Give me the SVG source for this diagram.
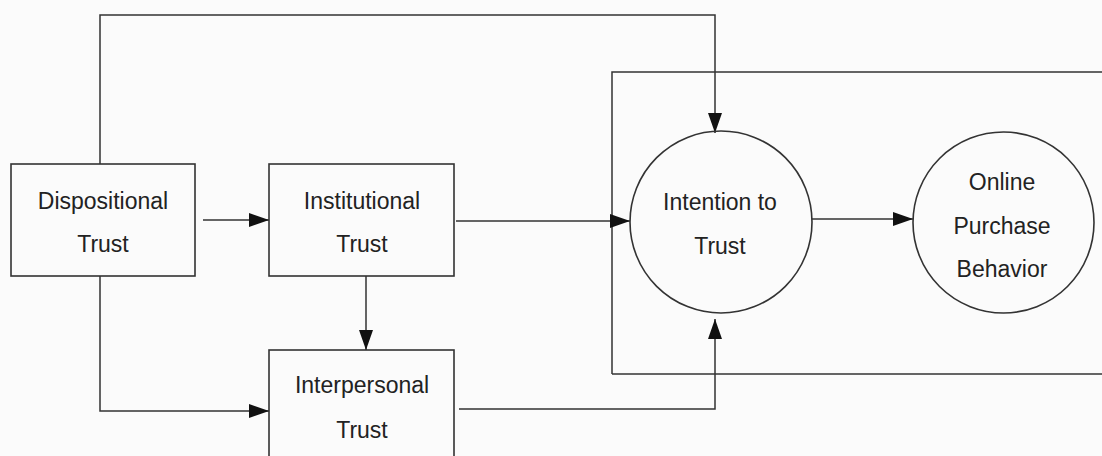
<svg xmlns="http://www.w3.org/2000/svg" width="1102" height="456" viewBox="0 0 1102 456">
<style>
.box{fill:none;stroke:#333;stroke-width:1.6}
.ln{fill:none;stroke:#333;stroke-width:1.5}
.t{font-family:"Liberation Sans",Arial,sans-serif;font-size:23px;fill:#222;text-anchor:middle}
</style>
<defs>
<marker id="ah" markerUnits="userSpaceOnUse" markerWidth="20" markerHeight="14" refX="20" refY="7" orient="auto">
<path d="M0,0 L20,7 L0,14 Z" fill="#111"/>
</marker>
</defs>
<rect width="1102" height="456" fill="#fbfbfb"/>
<g id="connectors">
<path class="ln" d="M612,374 L612,72 L1110,72"/>
<path class="ln" d="M612,374 L1110,374"/>
<path class="ln" d="M100,164 L100,15 L715,15 L715,133" marker-end="url(#ah)"/>
<path class="ln" d="M203,220 L269,220" marker-end="url(#ah)"/>
<path class="ln" d="M456,221 L630,221" marker-end="url(#ah)"/>
<path class="ln" d="M366,276 L366,350" marker-end="url(#ah)"/>
<path class="ln" d="M100,276 L100,411 L269,411" marker-end="url(#ah)"/>
<path class="ln" d="M459,409 L715,409 L715,319" marker-end="url(#ah)"/>
<path class="ln" d="M812,219 L913,219" marker-end="url(#ah)"/>
</g>
<g id="dispositional">
<rect class="box" x="11" y="164" width="184" height="112"/>
<text class="t" x="103" y="209">Dispositional</text>
<text class="t" x="103" y="252">Trust</text>
</g>
<g id="institutional">
<rect class="box" x="269" y="164" width="185" height="112"/>
<text class="t" x="362" y="209">Institutional</text>
<text class="t" x="362" y="252">Trust</text>
</g>
<g id="interpersonal">
<rect class="box" x="269" y="350" width="185" height="120"/>
<text class="t" x="362" y="393">Interpersonal</text>
<text class="t" x="362" y="438">Trust</text>
</g>
<g id="intention">
<circle class="box" cx="721" cy="222" r="91"/>
<text class="t" x="720" y="210">Intention to</text>
<text class="t" x="720" y="254">Trust</text>
</g>
<g id="online">
<circle class="box" cx="1003.5" cy="222.5" r="90.5"/>
<text class="t" x="1002" y="190">Online</text>
<text class="t" x="1002" y="234">Purchase</text>
<text class="t" x="1002" y="277">Behavior</text>
</g>
</svg>
